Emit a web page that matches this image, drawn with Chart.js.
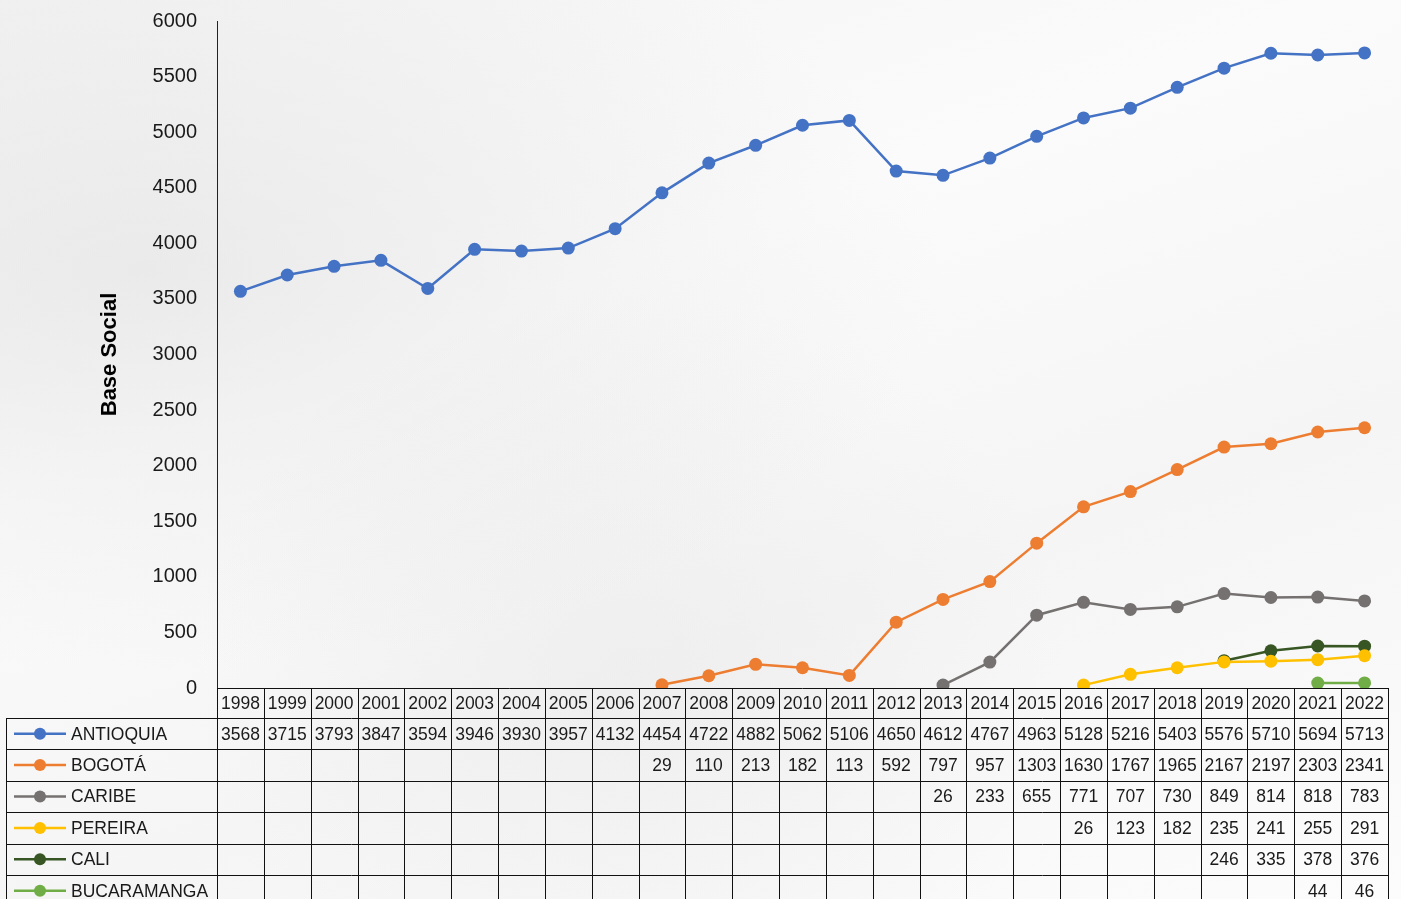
<!DOCTYPE html>
<html>
<head>
<meta charset="utf-8">
<script src="https://cdn.jsdelivr.net/npm/chart.js@4.4.0/dist/chart.umd.min.js"></script>
<style>
    html, body { margin: 0; padding: 0; }
    body {
        width: 1401px;
        height: 899px;
        overflow: hidden;
        background:
            radial-gradient(ellipse at 10% 30%, rgba(225,225,225,0.6), rgba(255,255,255,0) 45%),
            radial-gradient(ellipse at 45% 75%, rgba(232,232,232,0.5), rgba(255,255,255,0) 40%),
            linear-gradient(160deg, #f3f3f3 0%, #fbfbfb 35%, #f5f5f5 65%, #fcfcfc 100%);
    }
    #wrap { position: relative; width: 1401px; height: 899px; }
</style>
</head>
<body>
<div id="wrap"><canvas id="chart"></canvas></div>
<script>
// Data
const years = ['1998', '1999', '2000', '2001', '2002', '2003', '2004', '2005', '2006', '2007', '2008', '2009',
    '2010', '2011', '2012', '2013', '2014', '2015', '2016', '2017', '2018', '2019', '2020', '2021', '2022'];

const antioquia = [3568, 3715, 3793, 3847, 3594, 3946, 3930, 3957, 4132, 4454, 4722, 4882,
    5062, 5106, 4650, 4612, 4767, 4963, 5128, 5216, 5403, 5576, 5710, 5694, 5713];
const bogota = [null, null, null, null, null, null, null, null, null, 29, 110, 213,
    182, 113, 592, 797, 957, 1303, 1630, 1767, 1965, 2167, 2197, 2303, 2341];
const caribe = [null, null, null, null, null, null, null, null, null, null, null, null,
    null, null, null, 26, 233, 655, 771, 707, 730, 849, 814, 818, 783];
const pereira = [null, null, null, null, null, null, null, null, null, null, null, null,
    null, null, null, null, null, null, 26, 123, 182, 235, 241, 255, 291];
const cali = [null, null, null, null, null, null, null, null, null, null, null, null,
    null, null, null, null, null, null, null, null, null, 246, 335, 378, 376];
const bucaramanga = [null, null, null, null, null, null, null, null, null, null, null, null,
    null, null, null, null, null, null, null, null, null, null, null, 44, 46];

const seriesNames = ['ANTIOQUIA', 'BOGOTÁ', 'CARIBE', 'PEREIRA', 'CALI', 'BUCARAMANGA'];
const seriesData = [antioquia, bogota, caribe, pereira, cali, bucaramanga];
const seriesColors = ['#4472C4', '#ED7D31', '#767171', '#FFC000', '#375623', '#70AD47'];

const yTicks = { min: 0, max: 6000, step: 500 };

const FONT = '"Liberation Sans", Arial, sans-serif';

// Data table drawn under the plot
const dataTable = {
    id: 'dataTable',
    afterDraw(chart) {
        const { ctx, chartArea } = chart;
        const x = chart.scales.x;
        const step = x.getPixelForValue(1) - x.getPixelForValue(0);
        const left = chartArea.left;
        const right = chartArea.right;
        const top = chartArea.bottom;
        const headH = 30;
        const rowH = 31.4;
        const legendLeft = 6;
        const bottom = top + headH + rowH * seriesNames.length;

        ctx.save();
        ctx.strokeStyle = '#111';
        ctx.lineWidth = 1;

        // horizontal lines
        ctx.beginPath();
        ctx.moveTo(left, top + 0.5);
        ctx.lineTo(right, top + 0.5);
        for (let r = 0; r <= seriesNames.length; r++) {
            const y = Math.round(top + headH + r * rowH) + 0.5;
            ctx.moveTo(legendLeft, y);
            ctx.lineTo(right, y);
        }
        // vertical lines
        for (let i = 0; i <= years.length; i++) {
            const vx = Math.round(left + i * step) + 0.5;
            ctx.moveTo(vx, top);
            ctx.lineTo(vx, bottom);
        }
        ctx.moveTo(legendLeft + 0.5, top + headH);
        ctx.lineTo(legendLeft + 0.5, bottom);
        ctx.stroke();

        ctx.fillStyle = '#1a1a1a';
        ctx.font = '17.5px ' + FONT;
        ctx.textAlign = 'center';
        ctx.textBaseline = 'middle';

        // header years
        years.forEach((yr, i) => {
            ctx.fillText(yr, x.getPixelForValue(i), top + headH / 2 + 1);
        });

        // rows
        seriesNames.forEach((name, r) => {
            const cy = top + headH + r * rowH + rowH / 2 + 1;
            // legend key
            ctx.strokeStyle = seriesColors[r];
            ctx.lineWidth = 2.5;
            ctx.beginPath();
            ctx.moveTo(14, cy - 1);
            ctx.lineTo(66, cy - 1);
            ctx.stroke();
            ctx.fillStyle = seriesColors[r];
            ctx.beginPath();
            ctx.arc(40, cy - 1, 6, 0, Math.PI * 2);
            ctx.fill();

            ctx.fillStyle = '#1a1a1a';
            ctx.textAlign = 'left';
            ctx.fillText(name, 71, cy);
            ctx.textAlign = 'center';
            seriesData[r].forEach((v, i) => {
                if (v !== null) ctx.fillText(String(v), x.getPixelForValue(i), cy);
            });
        });
        ctx.restore();
    }
};

new Chart(document.getElementById('chart'), {
    type: 'line',
    data: {
        labels: years,
        datasets: seriesNames.map((name, i) => ({
            label: name,
            data: seriesData[i],
            borderColor: seriesColors[i],
            backgroundColor: seriesColors[i],
            borderWidth: 2.5,
            pointRadius: 6.5,
            pointHoverRadius: 6.5,
            pointBorderWidth: 0,
            tension: 0,
            spanGaps: false
        }))
    },
    options: {
        responsive: true,
        maintainAspectRatio: false,
        animation: false,
        layout: {
            padding: { top: 21, right: 13, bottom: 211, left: 0 }
        },
        plugins: {
            legend: { display: false },
            tooltip: { enabled: false }
        },
        scales: {
            x: {
                display: false,
                offset: true
            },
            y: {
                min: yTicks.min,
                max: yTicks.max,
                ticks: {
                    stepSize: yTicks.step,
                    color: '#1a1a1a',
                    padding: 20,
                    font: { size: 20, family: FONT },
                    callback: (v) => String(v)
                },
                grid: { display: false, drawTicks: false },
                border: { display: true, color: '#222', width: 1 },
                title: {
                    display: true,
                    text: 'Base Social',
                    color: '#000',
                    font: { size: 22, weight: 'bold', family: FONT },
                    padding: { top: 97, bottom: 0 }
                },
                afterFit: (scale) => {
                    scale.width = 217;
                    scale.paddingTop = 0;
                    scale.paddingBottom = 0;
                }
            }
        }
    },
    plugins: [dataTable]
});
</script>
</body>
</html>
